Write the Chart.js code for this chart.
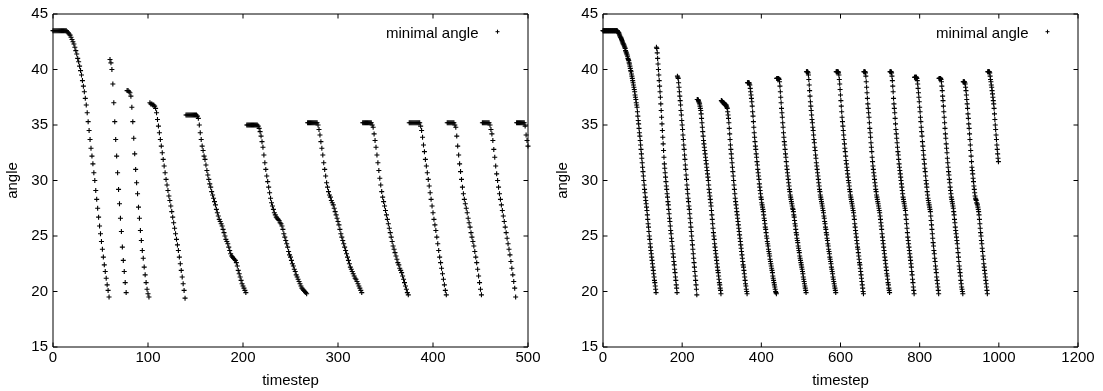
<!DOCTYPE html>
<html>
<head>
<meta charset="utf-8">
<title>minimal angle</title>
<script src="https://cdn.jsdelivr.net/npm/chart.js@4.4.0/dist/chart.umd.min.js"></script>
<style>
  html, body { margin: 0; padding: 0; background: #fff; }
  #wrap { width: 1103px; height: 391px; display: flex; }
  canvas { display: block; }
</style>
</head>
<body>
<div id="wrap">
  <canvas id="leftChart" width="550" height="391"></canvas>
  <canvas id="rightChart" width="550" height="391"></canvas>
</div>
<script>
const seriesLabel = "minimal angle";
const angleTicks = [15, 20, 25, 30, 35, 40, 45];
const leftStepTicks = [0, 100, 200, 300, 400, 500];
const rightStepTicks = [0, 200, 400, 600, 800, 1000, 1200];

// one value per timestep; each run starts where the mesh was reset
const leftRunStart = [0, 60, 78, 102, 140, 204, 268, 326, 375, 415, 452, 488];
const leftRuns = [
  [43.5, 43.5, 43.5, 43.5, 43.5, 43.5, 43.5, 43.5, 43.5, 43.5, 43.5, 43.5, 43.5, 43.5, 43.5,
   43.4, 43.3, 43.2, 43.1, 42.9, 42.7, 42.5, 42.3, 42.0, 41.7, 41.4, 41.0, 40.7, 40.3, 39.9,
   39.5, 39.0, 38.5, 38.0, 37.4, 36.8, 36.1, 35.3, 34.5, 33.7, 32.9, 32.2, 31.5, 30.7, 30.0,
   29.1, 28.3, 27.5, 26.7, 25.9, 25.2, 24.5, 23.8, 23.1, 22.4, 21.8, 21.2, 20.6, 20.1, 19.5],
  [40.9, 40.6, 40.0, 38.7, 37.0, 35.3, 33.7, 32.2, 30.7, 29.2, 27.9, 26.6, 25.4, 24.0, 22.8,
   21.8, 20.8, 19.9],
  [38.1, 38.1, 38.0, 37.9, 37.6, 36.6, 35.3, 33.8, 32.4, 31.0, 29.8, 28.8, 27.6, 26.6, 25.5,
   24.6, 23.7, 23.0, 22.2, 21.5, 20.8, 20.2, 19.8, 19.5],
  [37.0, 36.9, 36.9, 36.8, 36.8, 36.7,
   36.5, 36.1, 35.5, 34.9, 34.3, 33.7, 33.1, 32.5, 31.9, 31.3, 30.7, 30.1, 29.6, 29.1, 28.6, 28.2,
   27.7, 27.2, 26.7, 26.2, 25.7, 25.2, 24.7, 24.2, 23.7, 23.1, 22.5, 21.9, 21.3, 20.7, 20.1, 19.4],
  [35.9, 35.9, 35.9, 35.9, 35.9, 35.9, 35.9, 35.9, 35.9, 35.9, 35.9, 35.9,
   35.8, 35.6, 35.0, 34.3, 33.7, 33.1, 32.7, 32.2, 31.9, 31.4, 30.9, 30.5, 30.1, 29.7, 29.4, 29.0,
   28.7, 28.4, 28.1, 27.8, 27.4, 27.1, 26.8, 26.5, 26.3, 26.1, 25.9, 25.6, 25.3, 25.0, 24.7, 24.5,
   24.3, 24.0, 23.7, 23.4, 23.2, 23.1, 23.0, 22.9, 22.8, 22.6, 22.3, 21.9, 21.6, 21.3, 21.0, 20.7,
   20.5, 20.3, 20.1, 19.9],
  [35.0, 35.0, 35.0, 35.0, 35.0, 35.0, 35.0, 35.0, 35.0, 35.0, 35.0, 35.0,
   34.9, 34.7, 34.4, 34.0, 33.5, 33.0, 32.3, 31.6, 31.0, 30.4, 29.9, 29.4, 28.9, 28.4, 28.0, 27.7,
   27.4, 27.1, 26.9, 26.7, 26.6, 26.5, 26.4, 26.2, 26.1, 25.9, 25.6, 25.2, 24.9, 24.6, 24.3, 24.0,
   23.6, 23.3, 23.1, 22.8, 22.5, 22.3, 22.0, 21.8, 21.5, 21.3, 21.1, 20.9, 20.7, 20.5, 20.3, 20.2,
   20.1, 20.0, 19.9, 19.8],
  [35.2, 35.2, 35.2, 35.2, 35.2, 35.2, 35.2, 35.2, 35.2, 35.2, 35.2,
   35.0, 34.6, 34.1, 33.5, 32.9, 32.3, 31.6, 31.0, 30.4, 29.8, 29.4, 29.0, 28.7, 28.5, 28.2, 28.0,
   27.8, 27.5, 27.2, 26.9, 26.6, 26.3, 26.0, 25.6, 25.2, 24.9, 24.6, 24.3, 24.0, 23.7, 23.4, 23.1,
   22.8, 22.5, 22.2, 22.0, 21.8, 21.6, 21.4, 21.2, 21.1, 20.9, 20.7, 20.5, 20.3, 20.1, 19.9],
  [35.2, 35.2, 35.2, 35.2, 35.2, 35.2, 35.2, 35.2, 35.2, 35.2,
   35.0, 34.8, 34.2, 33.6, 33.0, 32.3, 31.6, 30.9, 30.2, 29.6, 29.0, 28.5, 28.1, 27.7, 27.3, 26.9,
   26.5, 26.1, 25.7, 25.3, 24.9, 24.5, 24.1, 23.8, 23.5, 23.2, 22.9, 22.6, 22.4, 22.1, 21.9, 21.7,
   21.4, 21.1, 20.8, 20.5, 20.2, 19.9, 19.7],
  [35.2, 35.2, 35.2, 35.2, 35.2, 35.2, 35.2, 35.2, 35.2, 35.2, 35.2, 35.2,
   34.9, 34.5, 33.9, 33.2, 32.6, 31.9, 31.3, 30.7, 30.1, 29.5, 28.9, 28.3, 27.7, 27.1, 26.5, 26.0,
   25.5, 24.9, 24.3, 23.7, 23.1, 22.6, 22.1, 21.6, 21.1, 20.6, 20.1, 19.7],
  [35.2, 35.2, 35.2, 35.2, 35.2, 35.2, 35.2, 35.2,
   35.0, 34.8, 34.0, 33.1, 32.3, 31.5, 30.8, 30.1, 29.4, 28.8, 28.3, 27.9, 27.5, 27.1, 26.6, 26.2,
   25.8, 25.3, 24.9, 24.5, 24.1, 23.6, 23.1, 22.6, 22.0, 21.4, 20.8, 20.2, 19.7],
  [35.2, 35.2, 35.2, 35.2, 35.2, 35.2, 35.2, 35.2,
   35.0, 34.6, 34.2, 33.6, 32.8, 32.1, 31.3, 30.6, 30.0, 29.4, 28.8, 28.3, 27.8, 27.3, 26.8, 26.3,
   25.8, 25.3, 24.8, 24.3, 23.8, 23.3, 22.7, 22.1, 21.5, 20.9, 20.3, 19.5],
  [35.2, 35.2, 35.2, 35.2, 35.2, 35.2, 35.2, 35.2, 35.2, 34.9, 34.1, 33.6, 33.1]
];

const rightRunStart = [0, 135, 188, 238, 299, 365, 439, 514, 589, 659, 725, 787, 849, 910, 972];
const rightRuns = [
  [43.5, 43.5, 43.5, 43.5, 43.5, 43.5, 43.5, 43.5, 43.5, 43.5, 43.5, 43.5, 43.5, 43.5, 43.5, 43.5,
   43.5, 43.5, 43.5, 43.5, 43.5, 43.5, 43.5, 43.5, 43.5, 43.5, 43.5, 43.5, 43.5, 43.5, 43.5, 43.5,
   43.5, 43.5, 43.5, 43.5, 43.5,
   43.4, 43.4, 43.3, 43.3, 43.2, 43.1, 43.0, 42.9, 42.9, 42.8,
   42.7, 42.6, 42.5, 42.4, 42.3, 42.3, 42.2, 42.1, 42.0, 41.9,
   41.7, 41.6, 41.5, 41.4, 41.3, 41.2, 41.0, 40.9, 40.8, 40.6,
   40.5, 40.3, 40.1, 39.9, 39.8, 39.6, 39.4, 39.2, 39.0, 38.8,
   38.6, 38.4, 38.2, 38.0, 37.7, 37.5, 37.3, 37.0, 36.8, 36.6,
   36.2, 35.8, 35.4, 35.1, 34.7, 34.3, 34.0, 33.6, 33.2, 32.8,
   32.4, 32.0, 31.6, 31.2, 30.8, 30.4, 30.0, 29.6, 29.2, 28.9,
   28.5, 28.2, 27.9, 27.6, 27.3, 26.9, 26.5, 26.1, 25.8, 25.4,
   25.0, 24.7, 24.3, 24.0, 23.7, 23.4, 23.1, 22.8, 22.5, 22.2,
   21.9, 21.6, 21.3, 21.0, 20.8, 20.5, 20.2, 19.9],
  [42.0, 41.9, 41.5, 41.0, 40.5, 40.0, 39.5, 39.0, 38.5, 38.0,
   37.5, 36.9, 36.3, 35.7, 35.1, 34.5, 33.9, 33.3, 32.7, 32.1,
   31.5, 31.1, 30.7, 30.3, 29.9, 29.5, 29.2, 28.8, 28.5, 28.1,
   27.8, 27.4, 27.0, 26.6, 26.3, 25.9, 25.5, 25.2, 24.8, 24.5,
   24.1, 23.8, 23.4, 23.1, 22.7, 22.4, 22.0, 21.7, 21.3, 21.0,
   20.6, 20.3, 19.9],
  [39.4, 39.3, 39.2, 38.8, 38.4, 38.0, 37.6, 37.2, 36.8, 36.3,
   35.9, 35.4, 35.0, 34.6, 34.1, 33.7, 33.2, 32.8, 32.3, 31.9,
   31.4, 31.0, 30.5, 30.1, 29.6, 29.2, 28.8, 28.4, 28.1, 27.7,
   27.4, 27.0, 26.6, 26.2, 25.8, 25.4, 25.0, 24.6, 24.2, 23.8,
   23.4, 23.0, 22.6, 22.2, 21.8, 21.4, 21.0, 20.6, 20.2, 19.7],
  [37.3, 37.3, 37.3, 37.2, 37.1, 37.0, 36.9, 36.7, 36.5, 36.3,
   36.0, 35.6, 35.2, 34.8, 34.4, 34.0, 33.6, 33.3, 33.0, 32.7,
   32.4, 32.1, 31.8, 31.5, 31.2, 30.9, 30.6, 30.3, 30.0, 29.6,
   29.2, 28.9, 28.6, 28.3, 28.0, 27.7, 27.3, 26.9, 26.5, 26.1,
   25.7, 25.3, 25.0, 24.7, 24.3, 24.0, 23.7, 23.4, 23.1, 22.8,
   22.5, 22.2, 21.9, 21.7, 21.4, 21.1, 20.8, 20.6, 20.3, 20.1, 19.8],
  [37.2, 37.2, 37.1, 37.1, 37.0, 37.0, 37.0, 36.9, 36.9, 36.9,
   36.8, 36.8, 36.8, 36.7, 36.6, 36.5, 36.2, 35.9, 35.6, 35.2,
   34.7, 34.2, 33.7, 33.2, 32.8, 32.4, 32.0, 31.6, 31.2, 30.8,
   30.4, 30.0, 29.6, 29.2, 28.8, 28.4, 28.1, 27.8, 27.5, 27.2,
   26.9, 26.6, 26.3, 26.0, 25.7, 25.4, 25.1, 24.8, 24.5, 24.2,
   23.9, 23.6, 23.3, 23.0, 22.7, 22.4, 22.2, 21.9, 21.6, 21.3,
   21.0, 20.7, 20.5, 20.2, 20.0, 19.8],
  [38.8, 38.8, 38.8, 38.8, 38.8, 38.7, 38.6, 38.3, 38.0, 37.7,
   37.4, 37.1, 36.7, 36.2, 35.8, 35.3, 34.8, 34.3, 33.9, 33.5,
   33.1, 32.8, 32.4, 32.1, 31.7, 31.4, 31.0, 30.7, 30.4, 30.1,
   29.7, 29.4, 29.1, 28.8, 28.5, 28.3, 28.0, 27.8, 27.6, 27.4,
   27.2, 26.9, 26.6, 26.4, 26.1, 25.8, 25.6, 25.3, 25.0, 24.8,
   24.5, 24.3, 24.1, 23.8, 23.6, 23.4, 23.2, 22.9, 22.7, 22.5,
   22.3, 22.1, 21.9, 21.7, 21.4, 21.2, 21.0, 20.8, 20.6, 20.4,
   20.2, 20.0, 19.9, 19.8],
  [39.2, 39.2, 39.2, 39.2, 39.2, 39.2, 39.1, 38.9, 38.5, 38.0,
   37.5, 37.0, 36.5, 36.1, 35.7, 35.2, 34.8, 34.3, 33.9, 33.5,
   33.2, 32.8, 32.4, 32.1, 31.7, 31.3, 31.0, 30.7, 30.4, 30.1,
   29.8, 29.5, 29.2, 29.0, 28.7, 28.5, 28.3, 28.1, 27.9, 27.7,
   27.5, 27.4, 27.2, 26.9, 26.7, 26.4, 26.1, 25.9, 25.6, 25.3,
   25.1, 24.8, 24.6, 24.4, 24.1, 23.9, 23.7, 23.5, 23.2, 23.0,
   22.8, 22.6, 22.4, 22.2, 22.0, 21.8, 21.6, 21.3, 21.1, 20.9,
   20.7, 20.5, 20.3, 20.1, 19.9],
  [39.8, 39.8, 39.8, 39.8, 39.7, 39.5, 39.1, 38.6, 38.1, 37.6,
   37.1, 36.7, 36.3, 35.9, 35.5, 35.2, 34.8, 34.5, 34.1, 33.7,
   33.4, 33.0, 32.7, 32.3, 32.0, 31.6, 31.3, 31.0, 30.7, 30.4,
   30.1, 29.8, 29.5, 29.2, 29.0, 28.7, 28.5, 28.3, 28.1, 27.9,
   27.7, 27.5, 27.3, 27.1, 26.8, 26.6, 26.3, 26.1, 25.8, 25.6,
   25.3, 25.1, 24.8, 24.6, 24.3, 24.1, 23.8, 23.6, 23.4, 23.1,
   22.9, 22.7, 22.5, 22.2, 22.0, 21.8, 21.6, 21.3, 21.1, 20.9,
   20.7, 20.5, 20.3, 20.1, 19.9],
  [39.8, 39.8, 39.8, 39.8, 39.8, 39.8, 39.7, 39.5, 39.1, 38.7,
   38.2, 37.7, 37.2, 36.7, 36.2, 35.7, 35.3, 34.9, 34.5, 34.1,
   33.7, 33.3, 32.9, 32.6, 32.2, 31.8, 31.5, 31.2, 30.9, 30.6,
   30.3, 30.0, 29.8, 29.5, 29.2, 29.0, 28.7, 28.5, 28.3, 28.1,
   27.9, 27.7, 27.5, 27.3, 27.1, 26.8, 26.5, 26.1, 25.8, 25.5,
   25.2, 24.9, 24.6, 24.3, 24.0, 23.8, 23.5, 23.2, 22.9, 22.6,
   22.4, 22.1, 21.8, 21.5, 21.2, 20.9, 20.6, 20.3, 20.0, 19.8],
  [39.8, 39.8, 39.8, 39.8, 39.7, 39.4, 38.9, 38.4, 37.9, 37.4,
   36.9, 36.5, 36.1, 35.7, 35.2, 34.7, 34.3, 33.9, 33.4, 33.0,
   32.6, 32.1, 31.7, 31.3, 31.0, 30.7, 30.4, 30.1, 29.8, 29.5,
   29.2, 29.0, 28.7, 28.5, 28.3, 28.1, 27.9, 27.7, 27.5, 27.3,
   27.1, 26.8, 26.5, 26.2, 25.9, 25.6, 25.2, 24.9, 24.6, 24.3,
   24.0, 23.7, 23.4, 23.1, 22.8, 22.5, 22.2, 21.9, 21.6, 21.4,
   21.1, 20.8, 20.6, 20.3, 20.1, 19.9],
  [39.8, 39.8, 39.8, 39.8, 39.7, 39.4, 39.0, 38.5, 38.0, 37.4,
   36.9, 36.5, 36.1, 35.6, 35.1, 34.6, 34.2, 33.8, 33.4, 33.0,
   32.6, 32.3, 31.9, 31.5, 31.2, 30.9, 30.6, 30.3, 30.0, 29.7,
   29.4, 29.1, 28.8, 28.5, 28.3, 28.1, 27.9, 27.7, 27.5, 27.3,
   26.9, 26.5, 26.1, 25.7, 25.3, 24.9, 24.6, 24.3, 24.0, 23.7,
   23.4, 23.1, 22.8, 22.5, 22.2, 21.8, 21.5, 21.1, 20.8, 20.4,
   20.1, 19.8],
  [39.3, 39.3, 39.3, 39.3, 39.3, 39.3, 39.2, 39.0, 38.7, 38.3,
   37.9, 37.5, 37.1, 36.6, 36.2, 35.7, 35.3, 34.8, 34.4, 34.0,
   33.5, 33.1, 32.7, 32.3, 31.9, 31.5, 31.1, 30.8, 30.4, 30.0,
   29.7, 29.4, 29.0, 28.7, 28.4, 28.2, 28.0, 27.8, 27.6, 27.4,
   27.2, 26.8, 26.4, 26.0, 25.6, 25.2, 24.8, 24.4, 24.1, 23.7,
   23.4, 23.0, 22.7, 22.3, 22.0, 21.7, 21.3, 21.0, 20.7, 20.4,
   20.1, 19.8],
  [39.2, 39.2, 39.2, 39.2, 39.2, 39.1, 38.9, 38.5, 38.1, 37.6,
   37.2, 36.7, 36.2, 35.7, 35.2, 34.7, 34.2, 33.8, 33.3, 32.9,
   32.5, 32.0, 31.6, 31.2, 30.8, 30.5, 30.1, 29.8, 29.4, 29.1,
   28.8, 28.5, 28.3, 28.1, 27.9, 27.7, 27.5, 27.2, 26.9, 26.5,
   26.2, 25.8, 25.5, 25.2, 24.9, 24.6, 24.3, 23.9, 23.5, 23.1,
   22.7, 22.3, 22.0, 21.7, 21.4, 21.0, 20.7, 20.4, 20.2, 20.0, 19.8],
  [38.9, 38.9, 38.9, 38.9, 38.8, 38.7, 38.4, 38.1, 37.7, 37.3,
   36.9, 36.5, 36.0, 35.6, 35.1, 34.7, 34.2, 33.7, 33.2, 32.7,
   32.2, 31.7, 31.2, 30.9, 30.6, 30.2, 29.9, 29.5, 29.2, 28.9,
   28.6, 28.4, 28.3, 28.2, 28.0, 27.9, 27.8, 27.6, 27.4, 27.2,
   26.9, 26.5, 26.1, 25.7, 25.3, 25.0, 24.6, 24.3, 23.9, 23.6,
   23.2, 22.9, 22.5, 22.2, 21.9, 21.6, 21.3, 21.0, 20.7, 20.4,
   20.1, 19.8],
  [39.8, 39.8, 39.8, 39.8, 39.8, 39.7, 39.4, 39.1, 38.9, 38.6,
   38.4, 38.1, 37.8, 37.5, 37.2, 36.9, 36.5, 36.0, 35.5, 35.0,
   34.6, 34.1, 33.7, 33.2, 32.8, 32.4, 32.0, 31.7]
];

const font = { family: "'Liberation Sans', Arial, Helvetica, sans-serif", size: 15 };

function toPoints(starts, runs) {
  const pts = [];
  runs.forEach((run, k) => {
    run.forEach((v, i) => pts.push({ x: starts[k] + i, y: v }));
  });
  return pts;
}

// gnuplot look: closed border, short inward ticks on all four sides, key at top right
const gnuplotFrame = {
  id: "gnuplotFrame",
  afterDraw(chart) {
    const { ctx, chartArea: a, scales } = chart;
    const tl = 4.5;
    ctx.save();
    ctx.strokeStyle = "#000";
    ctx.lineWidth = 1;
    ctx.beginPath();
    ctx.rect(a.left, a.top, a.right - a.left, a.bottom - a.top);
    scales.x.ticks.forEach(t => {
      const px = scales.x.getPixelForValue(t.value);
      ctx.moveTo(px, a.bottom);
      ctx.lineTo(px, a.bottom - tl);
      ctx.moveTo(px, a.top);
      ctx.lineTo(px, a.top + tl);
    });
    scales.y.ticks.forEach(t => {
      const py = scales.y.getPixelForValue(t.value);
      ctx.moveTo(a.left, py);
      ctx.lineTo(a.left + tl, py);
      ctx.moveTo(a.right, py);
      ctx.lineTo(a.right - tl, py);
    });
    ctx.stroke();

    ctx.fillStyle = "#000";
    ctx.font = font.size + "px " + font.family;
    ctx.textAlign = "right";
    ctx.textBaseline = "alphabetic";
    ctx.fillText(seriesLabel, a.right - 49.5, a.top + 23.5);
    Chart.helpers.drawPoint(ctx, { pointStyle: "cross", radius: 2, borderWidth: 1, rotation: 0 },
      a.right - 30.5, a.top + 17.7);
    ctx.restore();
  }
};

function makeChart(id, starts, runs, xTicks) {
  return new Chart(document.getElementById(id), {
    type: "scatter",
    data: {
      datasets: [{
        label: seriesLabel,
        data: toPoints(starts, runs),
        pointStyle: "cross",
        pointRadius: 2.5,
        pointBorderWidth: 1.1,
        pointBorderColor: "#000",
        pointBackgroundColor: "#000",
        clip: false
      }]
    },
    options: {
      responsive: false,
      animation: false,
      events: [],
      layout: { padding: { top: 13, right: 22, left: 0, bottom: 0 } },
      plugins: { legend: { display: false }, tooltip: { enabled: false } },
      scales: {
        x: {
          type: "linear",
          min: xTicks[0],
          max: xTicks[xTicks.length - 1],
          afterBuildTicks: s => { s.ticks = xTicks.map(v => ({ value: v })); },
          afterFit: s => { s.height = 44; },
          grid: { display: false, drawTicks: false },
          border: { display: false },
          ticks: { color: "#000", font, padding: 2, maxRotation: 0, autoSkip: false, callback: v => String(v) },
          title: { display: true, text: "timestep", color: "#000", font, padding: { top: 0, bottom: 1 } }
        },
        y: {
          min: angleTicks[0],
          max: angleTicks[angleTicks.length - 1],
          afterBuildTicks: s => { s.ticks = angleTicks.map(v => ({ value: v })); },
          afterFit: s => { s.width = 53; },
          grid: { display: false, drawTicks: false },
          border: { display: false },
          ticks: { color: "#000", font, padding: 5, autoSkip: false, callback: v => String(v) },
          title: { display: true, text: "angle", color: "#000", font, padding: { top: 4, bottom: 0 } }
        }
      }
    },
    plugins: [gnuplotFrame]
  });
}

makeChart("leftChart", leftRunStart, leftRuns, leftStepTicks);
makeChart("rightChart", rightRunStart, rightRuns, rightStepTicks);
</script>
</body>
</html>
